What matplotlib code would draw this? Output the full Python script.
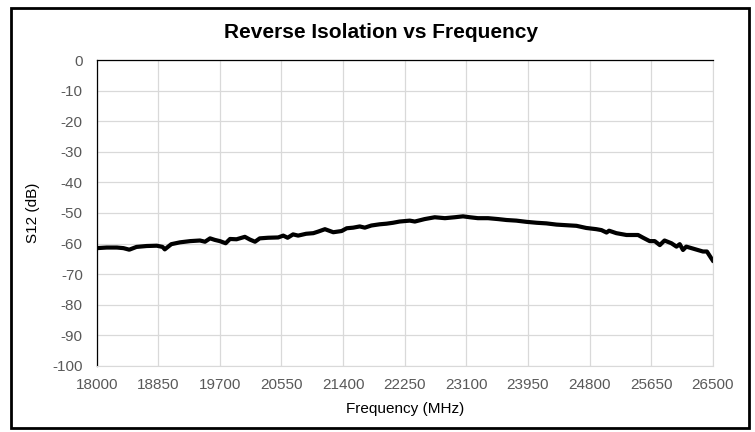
"""Reverse isolation (S12) vs frequency, Excel-style line chart."""

import matplotlib
matplotlib.use("Agg")
import matplotlib.pyplot as plt
from matplotlib.patches import Rectangle

# Data (MHz, dB)
freq_mhz = [
    18000, 18140, 18280, 18370, 18450, 18550, 18690, 18830, 18910, 18940,
    19030, 19150, 19290, 19425, 19495, 19565, 19630, 19700, 19780, 19840,
    19930, 20045, 20115, 20185, 20250, 20365, 20505, 20575, 20635, 20710,
    20780, 20890, 20990, 21055, 21150, 21265, 21380, 21450, 21540, 21630,
    21700, 21790, 21905, 22000, 22090, 22180, 22320, 22390, 22525, 22665,
    22805, 22940, 23055, 23150, 23260, 23400, 23540, 23655, 23790, 23930,
    24070, 24205, 24345, 24480, 24620, 24755, 24895, 24965, 25035, 25070,
    25170, 25310, 25470, 25540, 25630, 25700, 25770, 25835, 25930, 26000,
    26045, 26090, 26135, 26250, 26365, 26420, 26480, 26500,
]
s12_db = [
    -61.5, -61.3, -61.3, -61.5, -62.0, -61.1, -60.8, -60.7, -61.1, -61.9,
    -60.2, -59.6, -59.2, -59.0, -59.4, -58.3, -58.8, -59.2, -59.9, -58.5,
    -58.6, -57.8, -58.7, -59.4, -58.3, -58.1, -58.0, -57.4, -58.1, -57.0,
    -57.4, -56.8, -56.6, -56.1, -55.3, -56.3, -55.9, -55.0, -54.8, -54.4,
    -54.8, -54.1, -53.7, -53.5, -53.2, -52.8, -52.5, -52.8, -52.0, -51.4,
    -51.7, -51.4, -51.1, -51.4, -51.7, -51.7, -52.0, -52.3, -52.5, -52.9,
    -53.2, -53.4, -53.8, -54.0, -54.2, -54.9, -55.3, -55.6, -56.4, -55.8,
    -56.6, -57.2, -57.2, -58.1, -59.2, -59.2, -60.5, -59.0, -59.9, -61.0,
    -60.2, -62.1, -61.0, -61.8, -62.6, -62.6, -64.8, -65.5,
]

x_ticks = list(range(18000, 26501, 850))
y_ticks = list(range(-100, 1, 10))

plt.rcParams["font.family"] = ["Liberation Sans", "DejaVu Sans"]
plt.rcParams["axes.unicode_minus"] = False
label_color = "#595959"

fig = plt.figure(figsize=(7.55, 4.32), dpi=100)
ax = fig.add_axes([0.128, 0.153, 0.816, 0.708])

ax.plot(freq_mhz, s12_db, color="black", linewidth=3.0, solid_joinstyle="round")

ax.set_xlim(18000, 26500)
ax.set_ylim(-100, 0)
ax.set_xticks(x_ticks)
ax.set_yticks(y_ticks)
ax.tick_params(length=0, labelsize=11, labelcolor=label_color)
ax.tick_params(axis="y", pad=10)
ax.tick_params(axis="x", pad=9)
ax.grid(True, color="#d9d9d9", linewidth=0.9)
ax.set_axisbelow(True)

for side in ["right", "bottom"]:
    ax.spines[side].set_color("#d9d9d9")
for side in ["left", "top"]:
    ax.spines[side].set_color("black")
    ax.spines[side].set_linewidth(0.9)

ax.set_xlabel("Frequency (MHz)", fontsize=11, color="black", labelpad=7)
ax.set_ylabel("S12 (dB)", fontsize=11, color="black", labelpad=9)
fig.text(0.505, 0.925, "Reverse Isolation vs Frequency", ha="center", va="center",
         fontsize=15, fontweight="bold")

# outer chart border
fig.patches.append(Rectangle((11 / 755, 4 / 432), 738 / 755, 420 / 432,
                             transform=fig.transFigure, fill=False,
                             edgecolor="black", linewidth=2))

fig.savefig("out.png", dpi=100)
plt.close(fig)
